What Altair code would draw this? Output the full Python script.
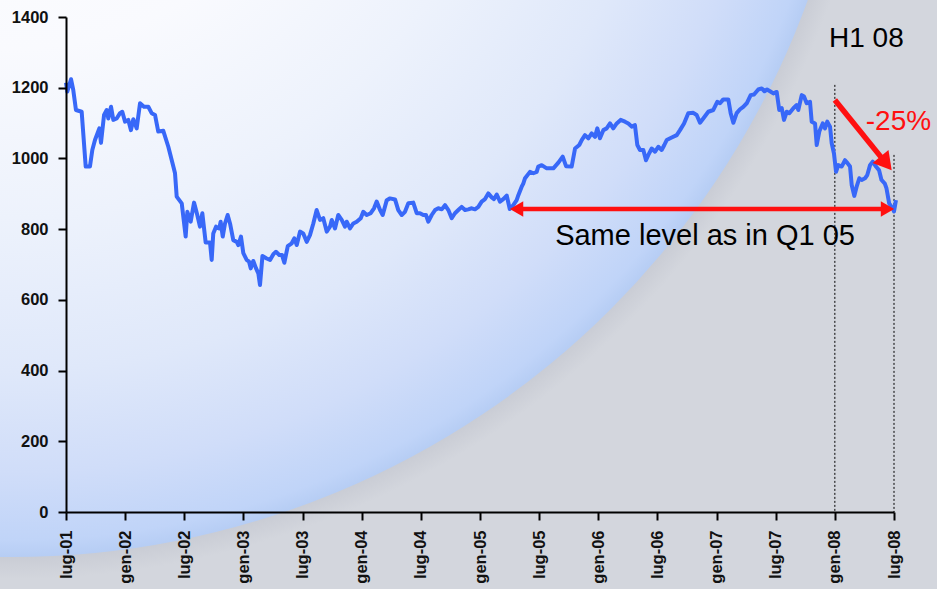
import altair as alt
import pandas as pd

# ---- data: index level, months since July 2001 ----
months = [0.0,0.13,0.51,0.74,1.01,1.59,2.0,2.43,2.67,2.94,
          3.38,3.55,3.86,4.13,4.29,4.57,4.8,5.14,5.48,5.71,
          5.99,6.32,6.59,6.83,7.17,7.51,7.91,8.35,8.69,9.03,
          9.36,9.87,10.38,10.89,11.06,11.23,11.74,12.14,12.31,12.65,
          12.99,13.32,13.59,13.83,14.17,14.61,14.78,14.94,15.22,15.55,
          15.69,15.9,16.13,16.4,16.64,16.97,17.32,17.48,17.75,17.99,
          18.33,18.57,18.74,19.0,19.28,19.51,19.68,19.93,20.36,20.7,
          21.05,21.3,21.64,21.91,22.15,22.5,22.9,23.16,23.41,23.74,
          24.07,24.42,24.75,25.09,25.43,25.77,26.1,26.45,26.78,26.96,
          27.29,27.62,27.97,28.3,28.48,28.81,29.15,29.49,29.9,30.16,
          30.51,30.91,31.25,31.52,31.86,32.13,32.54,32.87,33.38,33.71,
          34.06,34.39,34.73,35.23,35.58,35.91,36.25,36.52,36.76,37.1,
          37.44,37.77,38.12,38.45,38.79,39.13,39.46,39.8,40.14,40.48,
          40.81,41.16,41.49,41.83,42.17,42.51,42.84,43.19,43.42,43.7,
          44.03,44.36,44.71,45.02,45.38,45.72,45.89,46.23,46.39,46.57,
          47.07,47.41,47.75,47.91,48.26,48.77,49.44,49.95,50.39,50.73,
          51.3,51.64,52.07,52.32,52.65,52.99,53.33,53.67,53.9,54.17,
          54.51,54.85,55.19,55.52,55.87,56.27,56.71,57.05,57.39,57.72,
          57.96,58.23,58.57,58.84,59.08,59.42,59.76,60.09,60.43,60.7,
          60.94,61.45,61.96,62.29,62.7,63.13,63.64,63.98,64.32,64.65,
          65.16,65.67,66.07,66.35,66.68,67.19,67.43,67.7,68.04,68.38,
          68.71,69.06,69.46,69.8,70.23,70.58,70.86,71.12,71.42,71.76,
          72.1,72.36,72.61,72.84,73.12,73.38,73.79,74.13,74.29,74.64,
          74.87,75.14,75.48,75.65,75.99,76.16,76.42,76.77,77.0,77.23,
          77.51,77.68,77.91,78.12,78.35,78.69,79.03,79.3,79.54,79.71,
          79.97,80.21,80.48,80.72,81.06,81.29,81.57,81.84,82.17,82.48,
          82.73,83.07,83.24,83.51,83.86,84.0,84.2]

values = [1214,1189,1224,1193,1137,1132,977,977,1024,1052,
          1085,1044,1123,1137,1113,1146,1109,1113,1128,1132,
          1104,1109,1080,1111,1085,1156,1146,1146,1128,1123,
          1076,1078,1033,977,958,892,873,779,849,821,
          875,840,807,845,762,762,713,788,807,802,
          821,779,816,840,816,769,764,755,779,732,
          713,708,689,710,689,675,642,724,717,713,
          730,736,727,727,705,752,760,774,755,793,
          788,764,783,816,854,826,831,793,807,826,
          802,840,826,807,821,802,816,821,831,849,
          840,845,859,878,854,840,882,887,884,854,
          840,849,873,875,845,845,840,840,821,840,
          854,859,856,868,854,831,845,854,863,854,
          856,859,856,863,878,885,901,890,885,898,
          878,885,895,857,868,882,896,920,929,944,
          962,958,962,977,981,972,972,988,1005,978,
          977,1028,1038,1052,1066,1057,1071,1061,1085,1057,
          1080,1085,1099,1085,1099,1109,1104,1099,1090,1094,
          1038,1024,1024,995,1010,1028,1019,1033,1024,1038,
          1052,1059,1066,1080,1099,1128,1129,1123,1101,1113,
          1132,1137,1160,1156,1167,1167,1128,1101,1128,1139,
          1146,1156,1179,1181,1195,1198,1190,1195,1190,1184,
          1188,1137,1142,1109,1132,1128,1142,1151,1137,1179,
          1175,1156,1160,1104,1099,1038,1076,1099,1085,1104,
          1090,1043,1014,962,981,977,995,986,977,925,
          894,920,944,939,944,953,981,991,977,967,
          939,929,915,873,859,850,882]

tick_months = [0, 6, 12, 18, 24, 30, 36, 42, 48, 54, 60, 66, 72, 78, 84]
tick_labels = ["lug-01", "gen-02", "lug-02", "gen-03", "lug-03", "gen-04",
               "lug-04", "gen-05", "lug-05", "gen-06", "lug-06", "gen-07",
               "lug-07", "gen-08", "lug-08"]
y_ticks = [0, 200, 400, 600, 800, 1000, 1200, 1400]

# annotations (data coordinates)
vline_m = [78, 84]
vline_top = [1208, 1010]
harrow_m = [45.05, 84.0]
harrow_v = 857
darrow_start = (78.0, 1165)
darrow_head = (83.2, 986)
text_h1 = ("H1 08", 81.2, 1315)
text_pct = ("-25%", 84.45, 1080)
text_same = ("Same level as in Q1 05", 64.83, 755)

# ---- layout ----
W, H = 828, 495
PAD_L, PAD_T, PAD_R, PAD_B = 66, 17, 43, 77
RED = "#ff1010"
LINE = "#3868f8"
BG = "#d3d6dd"
FONT_AX = "Liberation Sans, Arial, sans-serif"
FONT_TX = "Liberation Sans, Arial, sans-serif"

label_expr = "[" + ",".join("'%s'" % l for l in tick_labels) + "][round(datum.value/6)]"

x_scale = alt.Scale(domain=[0, 84], nice=False, zero=False)
y_scale = alt.Scale(domain=[0, 1400], nice=False)

x_axis = alt.Axis(values=tick_months, labelExpr=label_expr, labelAngle=270,
                  tickSize=8, tickWidth=2, tickColor="black", domainColor="black",
                  domainWidth=2, labelFont=FONT_AX, labelFontSize=16.5, labelFontWeight="bold",
                  labelColor="#111111", labelPadding=10, grid=False, title=None, zindex=1,
                  labelFlush=False, labelOverlap=False)
y_axis = alt.Axis(values=y_ticks, format="d", tickSize=8, tickWidth=2,
                  tickColor="black", domainColor="black", domainWidth=2,
                  labelFont=FONT_AX, labelFontSize=16.5, labelFontWeight="bold",
                  labelColor="#111111", labelPadding=10, grid=False, title=None, zindex=1)


def X(f):
    return alt.X(f, type="quantitative", scale=x_scale, axis=x_axis)


def Y(f):
    return alt.Y(f, type="quantitative", scale=y_scale, axis=y_axis)


df = pd.DataFrame({"m": months, "v": values})
one = pd.DataFrame({"k": [0]})

# decorative background disc (page coordinates relative to plot origin)
R = 847
CX, CY = 12 - PAD_L, -290 - PAD_T

shadow = alt.Chart(one).mark_circle(
    opacity=1,
    fill=alt.RadialGradient(
        gradient="radial", x1=0.5, y1=0.5, r1=0, x2=0.5, y2=0.5, r2=0.5,
        stops=[alt.GradientStop(offset=0, color=BG),
               alt.GradientStop(offset=0.965, color="#c6c9d2"),
               alt.GradientStop(offset=1, color=BG)]),
).encode(x=alt.value(CX), y=alt.value(CY), size=alt.value((2 * (R + 22)) ** 2))

disc = alt.Chart(one).mark_circle(
    opacity=1,
    fill=alt.RadialGradient(
        gradient="radial", x1=0.5, y1=0.5, r1=0, x2=0.5, y2=0.5, r2=0.5,
        stops=[alt.GradientStop(offset=0, color="#ffffff"),
               alt.GradientStop(offset=0.4, color="#f9fafe"),
               alt.GradientStop(offset=0.6, color="#edf2fc"),
               alt.GradientStop(offset=0.78, color="#dfe8fa"),
               alt.GradientStop(offset=0.9, color="#d0ddf9"),
               alt.GradientStop(offset=0.98, color="#c0d4f8"),
               alt.GradientStop(offset=1, color="#b6cdf4")]),
).encode(x=alt.value(CX), y=alt.value(CY), size=alt.value((2 * R) ** 2))

vdf = pd.DataFrame({"m": vline_m, "top": vline_top, "bot": [0, 0]})
vlines = alt.Chart(vdf).mark_rule(color="black", strokeWidth=1, strokeDash=[2, 2]).encode(
    x=X("m"), y=Y("top"), y2="bot")

line = alt.Chart(df).mark_line(color=LINE, strokeWidth=4, strokeJoin="round").encode(
    x=X("m"), y=Y("v"))

hdf = pd.DataFrame({"m1": [harrow_m[0] + 0.6], "m2": [harrow_m[1] - 0.6], "v": [harrow_v]})
hline = alt.Chart(hdf).mark_rule(color=RED, strokeWidth=4.5).encode(
    x=X("m1"), x2="m2", y=Y("v"))
hl = pd.DataFrame({"m": [harrow_m[0] + 0.66], "v": [harrow_v]})
hr = pd.DataFrame({"m": [harrow_m[1] - 0.66], "v": [harrow_v]})
head_l = alt.Chart(hl).mark_point(shape="triangle-left", filled=True, size=240, opacity=1,
                                  color=RED, strokeWidth=0).encode(x=X("m"), y=Y("v"))
head_r = alt.Chart(hr).mark_point(shape="triangle-right", filled=True, size=240, opacity=1,
                                  color=RED, strokeWidth=0).encode(x=X("m"), y=Y("v"))

ddf = pd.DataFrame({"m1": [darrow_start[0]], "v1": [darrow_start[1]],
                    "m2": [darrow_head[0]], "v2": [darrow_head[1]]})
dline = alt.Chart(ddf).mark_rule(color=RED, strokeWidth=5.5).encode(
    x=X("m1"), y=Y("v1"), x2="m2", y2="v2")
dh = pd.DataFrame({"m": [darrow_head[0]], "v": [darrow_head[1]]})
head_d = alt.Chart(dh).mark_point(shape="triangle-up", filled=True, size=420, opacity=1,
                                  color=RED, strokeWidth=0, angle=141).encode(
    x=X("m"), y=Y("v"))


def text_layer(spec, color, size):
    t = pd.DataFrame({"label": [spec[0]], "m": [spec[1]], "v": [spec[2]]})
    return alt.Chart(t).mark_text(font=FONT_TX, fontSize=size, color=color,
                                  align="center", baseline="alphabetic").encode(
        x=X("m"), y=Y("v"), text="label:N")


t1 = text_layer(text_h1, "black", 28)
t2 = text_layer(text_pct, RED, 28)
t3 = text_layer(text_same, "black", 29)

chart = alt.layer(shadow, disc, vlines, line, hline, head_l, head_r, dline, head_d,
                  t1, t2, t3).properties(
    width=W, height=H, background=BG,
    padding={"left": PAD_L, "top": PAD_T, "right": PAD_R, "bottom": PAD_B},
    autosize=alt.AutoSizeParams(type="none"),
).configure_view(strokeWidth=0)

chart.save("out.html", embed_options={"renderer": "svg", "actions": False})
